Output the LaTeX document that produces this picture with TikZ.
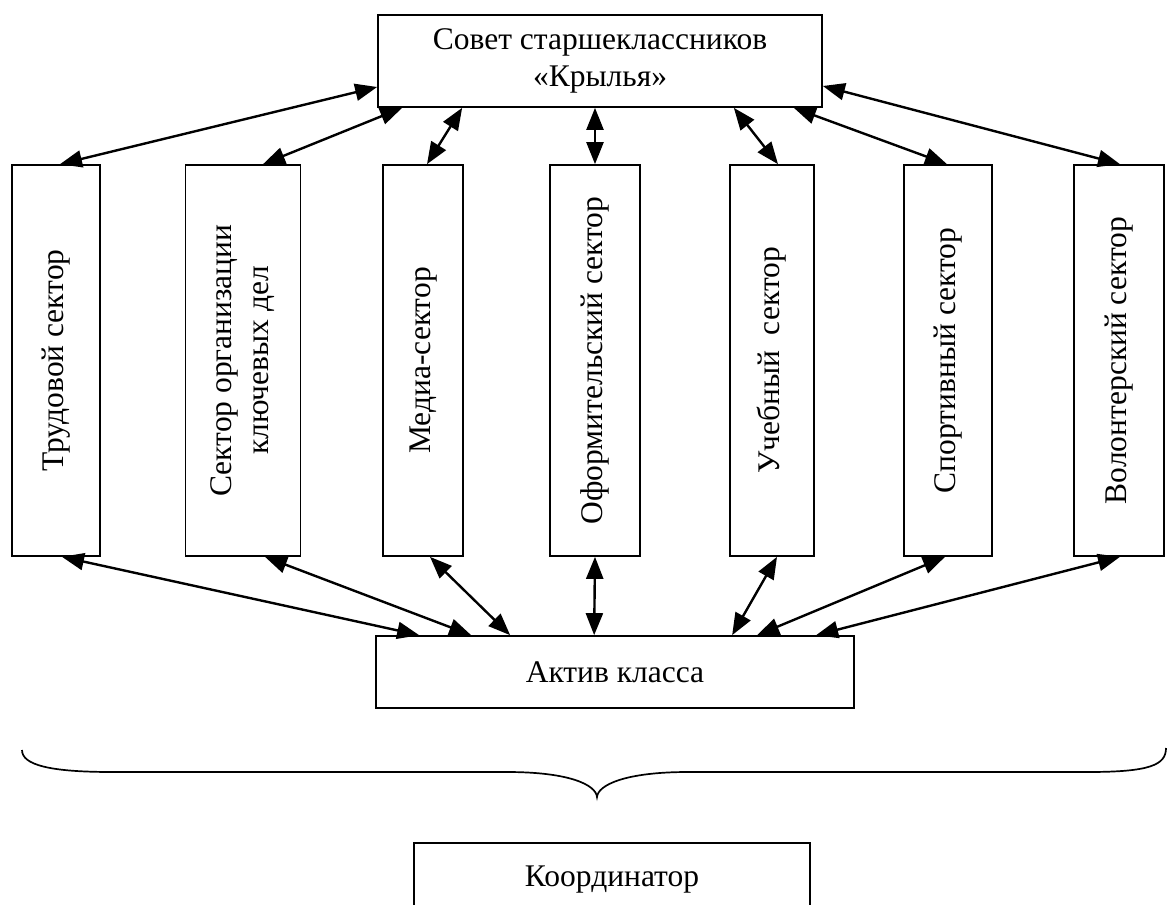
\documentclass[tikz,border=0pt]{standalone}
\usepackage{fontspec}
\setmainfont{Liberation Serif}
\usepackage{graphicx}
\usetikzlibrary{arrows.meta}
\tikzset{
  box/.style={draw, line width=1.7pt, inner sep=0pt, align=center, font=\fontsize{31.5}{37}\selectfont},
  tip/.tip={Triangle[length=22pt,width=17pt]},
  link/.style={line width=2.4pt, tip-tip},
  brace/.style={line width=1.7pt}
}
\newcommand{\vtext}[1]{\rotatebox{90}{\begin{tabular}{@{}c@{}}#1\end{tabular}}}
\begin{document}
\begin{tikzpicture}[x=1pt,y=-1pt]
\clip (0,0) rectangle (1168,905);
\useasboundingbox (0,0) rectangle (1168,905);
% top box
\node[box, minimum width=444pt, minimum height=92pt] (top) at (600,61) {Совет старшеклассников\\«Крылья»};
% sectors
\node[box, minimum width=88pt, minimum height=391pt] (s1) at (56,360.5) {\vtext{Трудовой сектор}};
\node[box, minimum width=115pt, minimum height=391pt] (s2) at (243,360.5) {\vtext{Сектор организации\\ключевых дел}};
\node[box, minimum width=80pt, minimum height=391pt] (s3) at (423,360.5) {\vtext{Медиа-сектор}};
\node[box, minimum width=90pt, minimum height=391pt] (s4) at (595,360.5) {\vtext{Оформительский сектор}};
\node[box, minimum width=84pt, minimum height=391pt] (s5) at (772,360.5) {\vtext{Учебный\ \ сектор}};
\node[box, minimum width=88pt, minimum height=391pt] (s6) at (948,360.5) {\vtext{Спортивный сектор}};
\node[box, minimum width=90pt, minimum height=391pt] (s7) at (1119,360.5) {\vtext{Волонтерский сектор}};
% active
\node[box, minimum width=478pt, minimum height=72pt] (akt) at (615,672) {Актив класса};
% coordinator
\node[box, minimum width=396pt, minimum height=80pt, text depth=0pt] (coord) at (612,883) {\raisebox{14pt}{Координатор}};
% top arrows
\draw[link] ([yshift=-26pt]top.west) -- ([xshift=4pt]s1.north);
\draw[link] ([xshift=25pt]top.south west) -- ([xshift=20pt]s2.north);
\draw[link] ([xshift=85pt]top.south west) -- ([xshift=4pt]s3.north);
\draw[link] ([xshift=-5pt]top.south) -- (s4.north);
\draw[link] ([xshift=-89pt]top.south east) -- ([xshift=6pt]s5.north);
\draw[link] ([xshift=-29pt]top.south east) -- ([xshift=-1pt]s6.north);
\draw[link] ([yshift=-25pt]top.east) -- ([xshift=1pt]s7.north);
% bottom arrows
\draw[link] ([xshift=6pt]s1.south) -- ([xshift=44pt]akt.north west);
\draw[link] ([xshift=22pt]s2.south) -- ([xshift=96pt]akt.north west);
\draw[link] ([xshift=7pt]s3.south) -- ([xshift=135pt]akt.north west);
\draw[link] (s4.south) -- ([xshift=219pt]akt.north west);
\draw[link] ([xshift=5pt]s5.south) -- ([xshift=357pt]akt.north west);
\draw[link] ([xshift=-3pt]s6.south) -- ([xshift=382pt]akt.north west);
\draw[link] ([xshift=1pt]s7.south) -- ([xshift=441pt]akt.north west);
% brace
\draw[brace] (22,750) .. controls (22,765) and (50,772) .. (112,772) -- (507,772)
  .. controls (570,772) and (596,785) .. (597,797)
  .. controls (598,785) and (625,772) .. (688,772) -- (1088,772)
  .. controls (1150,772) and (1166,765) .. (1166,748);
\end{tikzpicture}
\end{document}
